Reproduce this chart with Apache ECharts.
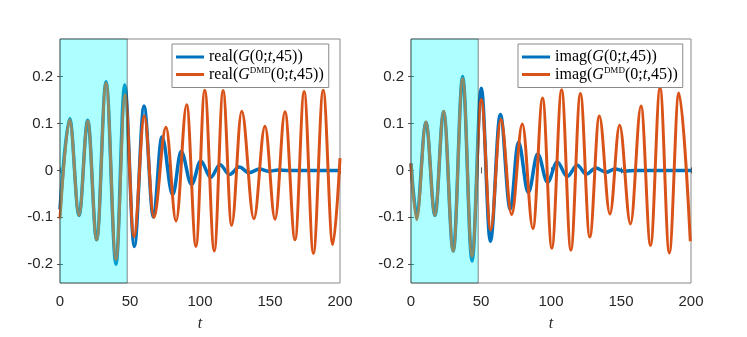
<!DOCTYPE html>
<html>
<head>
<meta charset="utf-8">
<script src="https://cdn.jsdelivr.net/npm/echarts@6/dist/echarts.min.js"></script>
<style>
  html, body { margin: 0; padding: 0; background: #fff; }
  #chart { width: 747px; height: 337px; }
</style>
</head>
<body>
<div id="chart"></div>
<script>
// left panel: real part
const tRealG = [0, 6.9, 13.6, 19.8, 26.2, 32.9, 40, 46.2, 53.1, 60, 66.7, 72.8, 80.5, 86.5, 94, 100.5, 107.6, 114.3, 121, 128, 135, 142.5, 149, 156, 163, 200]
const realG = [-0.083, 0.11, -0.096, 0.107, -0.148, 0.189, -0.2, 0.182, -0.162, 0.137, -0.099, 0.071, -0.052, 0.04, -0.03, 0.02, -0.015, 0.012, -0.009, 0.007, -0.005, 0.003, -0.002, 0.001, 0, 0]
const tRealDmd = [0, 6.9, 13.6, 19.8, 26.2, 32.9, 40, 46.5, 52.8, 60.3, 67, 75.7, 82.9, 90.5, 97.1, 103.4, 110.2, 116.5, 122.6, 129.8, 138.5, 146.4, 153.6, 160.7, 167.9, 174.4, 181, 188, 194.8, 200]
const realDmd = [-0.103, 0.108, -0.096, 0.105, -0.148, 0.186, -0.19, 0.161, -0.141, 0.116, -0.1, 0.092, -0.108, 0.14, -0.162, 0.171, -0.172, 0.17, -0.117, 0.126, -0.103, 0.094, -0.104, 0.125, -0.148, 0.168, -0.177, 0.171, -0.158, 0.026]

// right panel: imaginary part
const tImagG = [0, 4, 10.7, 17.1, 23.3, 30.2, 36.9, 43.6, 50.2, 56.7, 63.8, 70.9, 76.7, 83.8, 90.5, 97.5, 104.4, 111.6, 118.7, 125.3, 132, 139.3, 145.7, 152.9, 160, 200]
const imagG = [0.015, -0.092, 0.102, -0.096, 0.125, -0.172, 0.2, -0.193, 0.175, -0.151, 0.119, -0.083, 0.06, -0.047, 0.035, -0.025, 0.018, -0.013, 0.011, -0.008, 0.005, -0.004, 0.003, -0.002, 0, 0]
const tImagDmd = [0, 4, 10.7, 17.1, 23.3, 30.2, 36.9, 43.6, 50.2, 56.9, 64.2, 71.9, 79.5, 87.1, 94, 100.6, 107.6, 114.2, 121, 127.7, 134.5, 142.1, 149, 156.8, 164.3, 171.1, 177.9, 184.5, 191.3, 199.5]
const imagDmd = [0.015, -0.105, 0.103, -0.096, 0.126, -0.172, 0.196, -0.183, 0.151, -0.127, 0.109, -0.094, 0.099, -0.124, 0.154, -0.166, 0.172, -0.17, 0.164, -0.142, 0.116, -0.093, 0.096, -0.114, 0.137, -0.16, 0.176, -0.176, 0.165, -0.151]

const yTicks = [-0.2, -0.1, 0, 0.1, 0.2]
const trainWindow = [0, 48]

const BLUE = '#0072BD'
const ORANGE = '#D95319'
const serif = 'Liberation Serif'

const pairs = (ts, ys) => ts.map((t, i) => [t, ys[i]])

const legendLabels = {
  realG: '{n|real(}{i|G}{n|(0;}{i|t}{n|,45))}',
  realDmd: '{n|real(}{i|G}{s|DMD}{n|(0;}{i|t}{n|,45))}',
  imagG: '{n|imag(}{i|G}{n|(0;}{i|t}{n|,45))}',
  imagDmd: '{n|imag(}{i|G}{s|DMD}{n|(0;}{i|t}{n|,45))}'
}

const chart = echarts.init(document.getElementById('chart'))

const grids = [
  { left: 60, right: 407, top: 39, bottom: 48 },
  { left: 411, right: 56, top: 39, bottom: 48 }
]

const xAxes = []
const yAxes = []
grids.forEach((g, gi) => {
  xAxes.push({
    type: 'value', gridIndex: gi, position: 'bottom', min: 0, max: 200, interval: 50,
    axisLine: { show: false }, splitLine: { show: false },
    axisTick: { inside: true, length: 3, lineStyle: { color: '#555' } },
    axisLabel: { margin: 11, color: '#262626', fontSize: 15, fontFamily: 'Liberation Sans' },
    name: 't', nameLocation: 'middle', nameGap: 33,
    nameTextStyle: { fontFamily: serif, fontStyle: 'italic', fontSize: 16, color: '#262626' }
  })
  xAxes.push({
    type: 'value', gridIndex: gi, position: 'top', min: 0, max: 200, interval: 50,
    axisLine: { show: false }, splitLine: { show: false }, axisLabel: { show: false },
    axisTick: { inside: true, length: 3, lineStyle: { color: '#555' } }
  })
  yAxes.push({
    type: 'value', gridIndex: gi, position: 'left', min: -0.24, max: 0.28,
    axisLine: { show: false }, splitLine: { show: false },
    axisTick: { inside: true, length: 3, customValues: yTicks, lineStyle: { color: '#555' } },
    axisLabel: { margin: 7, customValues: yTicks, color: '#262626', fontSize: 15, fontFamily: 'Liberation Sans' }
  })
  yAxes.push({
    type: 'value', gridIndex: gi, position: 'right', min: -0.24, max: 0.28,
    axisLine: { show: false }, splitLine: { show: false }, axisLabel: { show: false },
    axisTick: { inside: true, length: 3, customValues: yTicks, lineStyle: { color: '#555' } }
  })
})

const makeLine = (name, data, color, width, gi, withShade) => {
  const s = {
    name: name, type: 'line', xAxisIndex: gi * 2, yAxisIndex: gi * 2,
    data: data, showSymbol: false, symbol: 'none',
    smooth: 0.36, smoothMonotone: 'x',
    lineStyle: { color: color, width: width }, itemStyle: { color: color },
    z: 2
  }
  if (withShade) {
    // training window, drawn over the lines like the translucent patch
    s.markArea = {
      silent: true, z: 5,
      itemStyle: { color: 'rgba(0,255,255,0.32)', borderColor: 'rgba(40,40,40,0.55)', borderWidth: 1 },
      data: [[{ xAxis: trainWindow[0] }, { xAxis: trainWindow[1] }]]
    }
  }
  return s
}

const legendRich = {
  n: { fontFamily: serif, fontSize: 16, lineHeight: 17, color: '#000' },
  i: { fontFamily: serif, fontSize: 16, lineHeight: 17, fontStyle: 'italic', color: '#000' },
  s: { fontFamily: serif, fontSize: 9, lineHeight: 9, verticalAlign: 'top', color: '#000' }
}

const makeLegend = (left, names) => ({
  left: left, top: 44, orient: 'vertical', data: names,
  icon: 'rect', itemWidth: 28, itemHeight: 3, itemGap: 1,
  padding: [5, 5, 5, 4],
  backgroundColor: '#fff', borderColor: '#8a8a8a', borderWidth: 1, borderRadius: 0,
  selectedMode: false,
  formatter: name => legendLabels[name],
  textStyle: { rich: legendRich }
})

chart.setOption({
  animation: false,
  grid: grids.map(g => Object.assign({ show: true, borderColor: '#8a8a8a', borderWidth: 1, backgroundColor: 'transparent' }, g)),
  xAxis: xAxes,
  yAxis: yAxes,
  legend: [makeLegend(172, ['realG', 'realDmd']), makeLegend(518, ['imagG', 'imagDmd'])],
  series: [
    makeLine('realG', pairs(tRealG, realG), BLUE, 3.5, 0, false),
    makeLine('realDmd', pairs(tRealDmd, realDmd), ORANGE, 3, 0, true),
    makeLine('imagG', pairs(tImagG, imagG), BLUE, 3.5, 1, false),
    makeLine('imagDmd', pairs(tImagDmd, imagDmd), ORANGE, 3, 1, true)
  ]
})
</script>
</body>
</html>
